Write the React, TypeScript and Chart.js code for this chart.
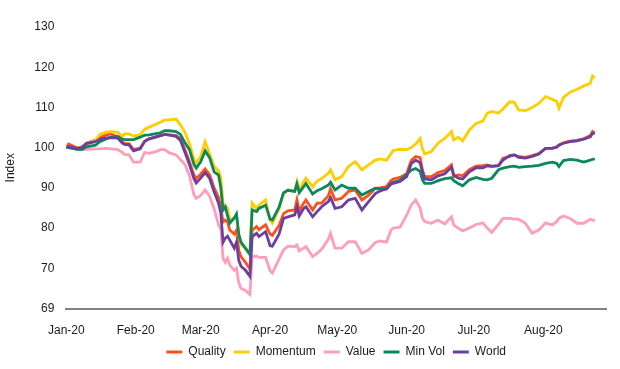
import { useEffect, useRef } from "react";
import { Chart, registerables } from "chart.js";

Chart.register(...registerables);

// Day offsets from 1 Jan 2020 (calendar days)
const days = [
  0, 1, 5, 7, 9, 13, 15, 18, 20, 23,
  25, 26, 28, 30, 33, 35, 37, 40, 42, 44,
  46, 49, 51, 53, 55, 57, 58, 60, 62, 64,
  66, 68, 69, 70, 71, 72, 73, 75, 76, 77,
  78, 80, 82, 83, 85, 86, 89, 91, 92, 95,
  97, 99, 102, 103, 104, 106, 107, 110, 112, 114,
  117, 118, 120, 123, 126, 129, 132, 135, 138, 140,
  143, 145, 146, 149, 152, 154, 156, 158, 159, 160,
  163, 166, 169, 172, 173, 175, 177, 180, 183, 186,
  188, 190, 193, 195, 198, 200, 202, 205, 208, 211,
  214, 217, 219, 220, 222, 225, 228, 231, 234, 235,
  236,
];

const quality = [
  100, 100.9, 99.9, 100.2, 101.1, 101.9, 102.5, 103.2, 103.4, 102.6,
  101.5, 101, 101, 99.5, 99.9, 101.6, 102.2, 102.6, 103, 103.3,
  103.2, 103, 102.3, 99.4, 96.5, 93.2, 92.3, 93.4, 94.7, 93.3,
  90, 87.6, 85, 81.5, 82, 81.5, 79.5, 78.5, 79.5, 74.5,
  72.9, 71.5, 69.8, 79.5, 80.4, 79.6, 80.8, 78.5, 78.2, 80.6,
  83.6, 84.3, 84.5, 87, 84.3, 86.2, 87, 84.5, 86.2, 86.2,
  88, 89.8, 87, 87.4, 89.1, 89.5, 87, 88.2, 89.9, 90,
  90.3, 91.8, 92.2, 92.6, 93.5, 96.8, 97.8, 97.5, 94.5, 92.8,
  92.8, 93.8, 94.3, 95.7, 92.8, 93.2, 93, 94.5, 95.4, 95.5,
  95.7, 95.3, 95.5, 97.4, 97.8, 98.2, 97.8, 97.6, 98, 98.5,
  99.8, 99.9, 100.2, 100.7, 101.2, 101.6, 101.8, 102.2, 103, 104,
  103.6,
];

const momentum = [
  100, 100.2, 99.9, 100, 100.9, 101.8, 103.3, 103.9, 104, 103.8,
  102.7, 103.4, 103.4, 102.9, 103.2, 104.6, 105.1, 105.8, 106.3, 106.9,
  106.9, 107.1, 105.6, 103.8, 101, 97.2, 96.2, 97.8, 101.5, 98.4,
  95.4, 94.2, 92.5, 86.2, 85.3, 85, 82, 82.5, 83, 78.5,
  76, 74.8, 73.8, 86.2, 84.8, 85.7, 87, 82, 81.2, 84.8,
  88.6, 89.5, 89.1, 91.5, 89.5, 91.5, 92.4, 90.3, 91.7, 92.3,
  93.6, 94.5, 92, 92.8, 95.3, 96.5, 94.5, 95.7, 96.9, 97.2,
  96.9, 98.5, 99.3, 99.6, 99.5, 100, 100.9, 102.3, 99.8, 98.4,
  99, 101.1, 102.3, 104, 101.9, 102.6, 101.7, 104.4, 106, 106.6,
  108.6, 109, 108.6, 109.6, 111.4, 111.3, 109.4, 109.2, 110, 111,
  112.7, 112, 111.5, 109.8, 112.5, 113.8, 114.5, 115.3, 116, 117.8,
  117.4,
];

const valueIdx = [
  100, 100, 99.6, 99.6, 99.6, 99.7, 99.7, 99.8, 99.7, 99.5,
  98.8, 98.3, 98.2, 96.4, 96.4, 98.8, 98.6, 99, 99.5, 99.5,
  98.7, 98.2, 97, 95.8, 93, 88.3, 87.4, 88.1, 89.5, 87.9,
  84.8, 80.8, 79.8, 72.5, 71.5, 72.5, 70.8, 69.5, 70, 66.5,
  65, 64.5, 63.5, 72.9, 73, 72.7, 72.7, 69.4, 68.8, 72.3,
  74.6, 75.5, 75.4, 75.8, 74.3, 75, 75.4, 72.9, 73.7, 74.7,
  77.2, 78.7, 75, 75, 76.6, 76.6, 73.7, 74.6, 76.4, 76.8,
  76.5, 79.5, 80, 80.2, 83.2, 85.7, 87, 85, 82.5, 81.6,
  81.2, 82, 81, 82.8, 80.8, 80, 79.3, 80, 80.9, 81.3,
  80, 78.9, 80.9, 82.4, 82.4, 82.2, 82.2, 81.2, 78.7, 79.5,
  81.3, 80.8, 81.6, 82.4, 83, 82.4, 81.2, 81.2, 82.2, 82,
  81.8,
];

const minVol = [
  100, 100, 99.6, 99.5, 100.2, 100.6, 101.5, 102.2, 102.6, 102.8,
  102.1, 102, 102, 102, 102.6, 103.1, 103.2, 103.5, 103.7, 104.2,
  104.2, 104, 103.3, 101.2, 99.5, 95.8, 94.9, 96.5, 99.2, 97.5,
  94, 93.2, 90, 84.5, 85.3, 83, 81.2, 82.5, 83.5, 78.5,
  76.5, 75, 73.4, 84.5, 84.1, 84.9, 85.7, 82.2, 82, 85.2,
  88.8, 89.4, 89.1, 91, 88.8, 90.3, 91.1, 88.5, 89.3, 89.8,
  90.7, 91.4, 89.5, 90.7, 89.9, 89.9, 88.2, 89.1, 89.9, 89.8,
  89.7, 91, 91.4, 91.9, 93.4, 94.4, 94.8, 94.1, 92, 91.1,
  91.1, 91.8, 92.3, 92.5, 91.8, 91.1, 90.5, 92, 92.6, 92.1,
  92, 92.4, 94.5, 94.9, 95.3, 95.4, 95.1, 95.3, 95.4, 95.6,
  96.1, 96.4, 96.1, 95.3, 96.8, 97.1, 96.9, 96.4, 96.9, 97.1,
  97.2,
];

const world = [
  100, 100.3, 99.8, 100, 101, 101.5, 102.1, 102.4, 102.5, 102.4,
  101.1, 100.8, 100.7, 99.2, 99.7, 101.6, 102.2, 102.7, 103, 103.3,
  103.1, 102.8, 101.8, 98.8, 95.8, 92.3, 91.2, 92.4, 93.8, 92.4,
  89, 86.2, 83.7, 76.5, 77.5, 78, 77, 75, 76.5, 72,
  70.5, 69.5, 68, 77.9, 78.7, 77.9, 79.1, 75.6, 75.5, 78.5,
  82.4, 82.8, 83.3, 85.3, 83, 84.9, 85.3, 82.8, 84.1, 85.3,
  86.6, 87.6, 84.9, 85.3, 87, 87.4, 84.5, 86.6, 88.6, 89.2,
  89.8, 91, 91.1, 91.6, 92.8, 96, 96.9, 96.2, 94, 92.2,
  92, 93, 93.5, 95.1, 93.2, 92.4, 92.2, 94, 95, 95,
  95.5, 95.4, 95.5, 96.9, 98, 98.2, 97.6, 97.4, 97.8, 98.4,
  99.8, 99.8, 100.1, 100.6, 101.1, 101.5, 101.7, 102.1, 102.7, 103.6,
  103.5,
];

const seriesNames = ["Quality", "Momentum", "Value", "Min Vol", "World"];
const seriesColors = ["#FF4F1A", "#FFCD00", "#FF9EB8", "#0A8A5A", "#6B3FA0"];

const xTickDays = [0, 31, 60, 91, 121, 152, 182, 213];
const xTickLabels = ["Jan-20", "Feb-20", "Mar-20", "Apr-20", "May-20", "Jun-20", "Jul-20", "Aug-20"];
const yTickValues = [60, 70, 80, 90, 100, 110, 120, 130];
const yTickLabels = ["69", "70", "80", "90", "100", "110", "120", "130"];

const FONT = "'Liberation Sans', Arial, sans-serif";
const TEXT = "#1a1a1a";

export default function App() {
  const ref = useRef<HTMLCanvasElement>(null);

  useEffect(() => {
    const series = [quality, momentum, valueIdx, minVol, world];
    Chart.defaults.font.family = FONT;
    const chart = new Chart(ref.current as HTMLCanvasElement, {
      type: "line",
      data: {
        datasets: series.map((s, i) => ({
          label: seriesNames[i],
          data: days.map((d, j) => ({ x: d, y: s[j] })),
          borderColor: seriesColors[i],
          backgroundColor: seriesColors[i],
          borderWidth: 2.8,
          pointRadius: 0,
          tension: 0,
          fill: false,
          order: 5 - i,
        })),
      },
      options: {
        responsive: false,
        animation: false,
        devicePixelRatio: 1,
        layout: { padding: { top: 27, right: 14, bottom: 1, left: 0 } },
        plugins: {
          legend: {
            position: "bottom",
            fullSize: false,
            labels: {
              boxWidth: 16,
              boxHeight: 3,
              padding: 8,
              color: TEXT,
              font: { family: FONT, size: 12 },
              generateLabels: (c: any) =>
                c.data.datasets.map((ds: any, i: number) => ({
                  text: ds.label,
                  fillStyle: seriesColors[i],
                  strokeStyle: seriesColors[i],
                  lineWidth: 0,
                  hidden: false,
                  datasetIndex: i,
                  fontColor: TEXT,
                })),
            },
          },
          tooltip: { enabled: false },
        },
        scales: {
          x: {
            type: "linear",
            min: 0,
            max: 241,
            grid: { display: false, drawTicks: false },
            border: { display: true, color: "#808080", width: 2 },
            afterBuildTicks: (s: any) => {
              s.ticks = xTickDays.map((v) => ({ value: v }));
            },
            afterFit: (s: any) => {
              s.height = 29.5;
            },
            ticks: {
              autoSkip: false,
              maxRotation: 0,
              padding: 15,
              color: TEXT,
              font: { family: FONT, size: 12 },
              callback: (_v: any, i: number) => xTickLabels[i],
            },
          },
          y: {
            type: "linear",
            min: 60,
            max: 130,
            grid: { display: false, drawTicks: false },
            border: { display: false },
            afterBuildTicks: (s: any) => {
              s.ticks = yTickValues.map((v) => ({ value: v }));
            },
            afterFit: (s: any) => {
              s.width = 66.3;
            },
            ticks: {
              padding: 12,
              color: TEXT,
              font: { family: FONT, size: 12 },
              callback: (_v: any, i: number) => yTickLabels[i],
            },
            title: {
              display: true,
              text: "Index",
              color: TEXT,
              padding: { top: 3, bottom: 0 },
              font: { family: FONT, size: 12 },
            },
          },
        },
      } as any,
    });
    return () => chart.destroy();
  }, []);

  return (
    <div style={{ position: "fixed", left: 0, top: 0, width: 620, height: 369, background: "#fff" }}>
      <canvas ref={ref} width={620} height={369} style={{ display: "block" }} />
    </div>
  );
}
